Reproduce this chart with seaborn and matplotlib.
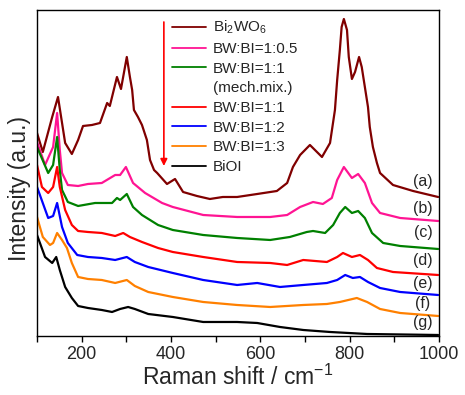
import matplotlib
matplotlib.use("Agg")
import matplotlib.pyplot as plt
import seaborn as sns
import pandas as pd
from matplotlib.ticker import MultipleLocator, NullLocator
from matplotlib.lines import Line2D

sns.set_style("ticks")
plt.rcParams['font.family'] = ['Liberation Sans', 'DejaVu Sans']
plt.rcParams['mathtext.fontset'] = 'custom'
plt.rcParams['mathtext.rm'] = 'Liberation Sans'
plt.rcParams['mathtext.it'] = 'Liberation Sans:italic'
plt.rcParams['mathtext.bf'] = 'Liberation Sans:bold'

# ---- data (Raman shift in cm^-1, intensity in arbitrary units, offset stacked) ----
shift_a = [100, 113, 134, 147, 163, 178, 192, 203, 223, 241, 257, 263, 279, 288, 301, 308, 313, 317, 326, 335, 346, 353, 362, 369, 391, 409, 427, 458, 487, 516, 548, 593, 637, 660, 673, 689, 711, 738, 756, 767, 772, 778, 782, 787, 794, 798, 805, 812, 821, 827, 834, 841, 845, 852, 861, 868, 897, 942, 998]
int_a = [203, 184, 219, 239, 193, 182, 196, 210, 211, 213, 233, 230, 259, 247, 279, 259, 246, 226, 219, 211, 196, 176, 166, 163, 152, 157, 144, 140, 137, 139, 139, 142, 145, 153, 169, 181, 191, 179, 193, 226, 256, 286, 309, 317, 306, 279, 257, 264, 279, 269, 249, 229, 209, 189, 173, 163, 151, 145, 139]

shift_b = [100, 118, 136, 145, 151, 156, 169, 192, 214, 245, 275, 286, 299, 315, 342, 380, 404, 472, 548, 622, 660, 689, 718, 740, 760, 772, 787, 805, 819, 834, 850, 868, 913, 998]
int_b = [194, 171, 189, 223, 186, 163, 151, 150, 152, 153, 161, 161, 169, 153, 143, 133, 129, 121, 119, 119, 121, 129, 134, 132, 138, 156, 169, 158, 162, 153, 133, 123, 118, 115]

shift_c = [100, 125, 136, 145, 151, 156, 169, 192, 230, 268, 279, 286, 301, 315, 335, 371, 404, 472, 548, 622, 666, 704, 718, 745, 763, 778, 790, 805, 819, 834, 850, 875, 913, 998]
int_c = [189, 163, 171, 199, 166, 146, 134, 130, 133, 133, 138, 136, 142, 129, 121, 111, 106, 101, 98, 96, 99, 104, 105, 103, 111, 123, 129, 123, 125, 118, 103, 93, 90, 87]

shift_d = [100, 111, 125, 136, 145, 151, 163, 178, 192, 214, 245, 275, 293, 308, 335, 371, 404, 472, 548, 622, 660, 696, 749, 772, 785, 805, 823, 841, 861, 897, 998]
int_d = [171, 149, 143, 149, 169, 149, 126, 111, 105, 104, 103, 100, 103, 99, 94, 88, 84, 79, 74, 73, 71, 76, 74, 79, 83, 79, 81, 76, 68, 64, 61]

shift_e = [100, 125, 136, 145, 156, 169, 190, 214, 245, 275, 301, 319, 349, 404, 472, 548, 593, 644, 696, 749, 772, 790, 807, 823, 841, 868, 913, 998]
int_e = [149, 118, 120, 133, 109, 93, 81, 79, 78, 76, 79, 74, 69, 63, 56, 51, 53, 49, 51, 53, 56, 61, 58, 59, 54, 48, 44, 41]

shift_f = [100, 113, 129, 136, 145, 156, 167, 178, 192, 214, 245, 275, 301, 319, 349, 404, 472, 548, 622, 696, 749, 778, 816, 839, 868, 913, 998]
int_f = [119, 99, 91, 93, 103, 96, 88, 73, 59, 57, 56, 53, 56, 50, 44, 39, 34, 31, 29, 31, 32, 34, 38, 34, 27, 23, 20]

shift_g = [100, 118, 134, 143, 151, 163, 178, 192, 214, 245, 268, 286, 304, 319, 349, 404, 472, 548, 593, 644, 696, 756, 839, 998]
int_g = [101, 79, 73, 79, 66, 49, 38, 30, 28, 26, 24, 27, 29, 27, 22, 19, 14, 14, 13, 9, 6, 4, 2, 1]

series_names = ["Bi$_2$WO$_6$", "BW:BI=1:0.5", "BW:BI=1:1", "BW:BI=1:1 ", "BW:BI=1:2", "BW:BI=1:3", "BiOI"]
curve_tags = ["(a)", "(b)", "(c)", "(d)", "(e)", "(f)", "(g)"]
tag_heights = [154, 127, 103, 75, 52, 32, 13]
colors = ["#800000", "#FF1493", "#008000", "#FF0000", "#0000FF", "#FF8000", "#000000"]

shifts = [shift_a, shift_b, shift_c, shift_d, shift_e, shift_f, shift_g]
ints = [int_a, int_b, int_c, int_d, int_e, int_f, int_g]

fig = plt.figure(figsize=(4.65, 3.95), dpi=100)
ax = fig.add_axes([0.0796, 0.1494, 0.8645, 0.8253])

for name, xs, ys, c in zip(series_names, shifts, ints, colors):
    df = pd.DataFrame({"x": xs, "y": ys})
    sns.lineplot(data=df, x="x", y="y", color=c, lw=1.6, ax=ax, sort=False,
                 estimator=None, legend=False)

ax.set_xlim(100, 1000)
ax.set_ylim(0, 326)
ax.xaxis.set_major_locator(MultipleLocator(200))
ax.xaxis.set_minor_locator(MultipleLocator(100))
ax.yaxis.set_major_locator(NullLocator())
ax.tick_params(axis='x', which='both', direction='out', length=4.5, width=1.0,
               labelsize=13, top=False, pad=3, color='black')
for s in ax.spines.values():
    s.set_linewidth(1.0)
    s.set_color('black')

ax.set_xlabel("Raman shift / cm$^{-1}$", fontsize=16.5, labelpad=1)
ax.set_ylabel("Intensity (a.u.)", fontsize=16.5)
ax.yaxis.set_label_coords(-0.015, 0.451)

# legend
handles = []
labels = []
for i, (name, c) in enumerate(zip(series_names, colors)):
    handles.append(Line2D([], [], color=c, lw=1.3))
    labels.append(name.strip())
    if i == 2:
        handles.append(Line2D([], [], color='none', lw=0))
        labels.append("(mech.mix.)")
leg = ax.legend(handles, labels, loc='upper left', bbox_to_anchor=(0.31, 1.005),
                frameon=False, fontsize=11, handlelength=2.2, handletextpad=0.45,
                labelspacing=0.37, borderpad=0.2)

# red arrow
ax.annotate("", xy=(384, 170), xytext=(384, 314),
            arrowprops=dict(arrowstyle='-|>', color='red', lw=1.2,
                            mutation_scale=10, shrinkA=0, shrinkB=0))

for tag, h in zip(curve_tags, tag_heights):
    ax.text(964, h, tag, fontsize=11.5, ha='center', va='center')

fig.savefig("out.png", dpi=100)
